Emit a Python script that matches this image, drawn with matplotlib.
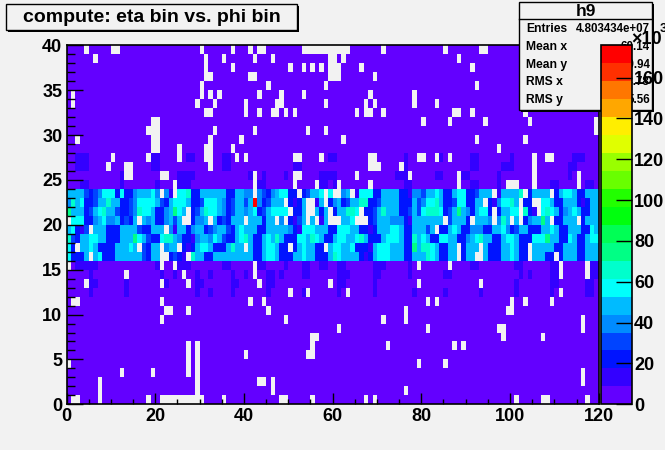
import colorsys
import numpy as np
import matplotlib
matplotlib.use("Agg")
import matplotlib.pyplot as plt
from matplotlib.colors import ListedColormap, Normalize
from matplotlib.patches import Rectangle
from matplotlib.lines import Line2D
from matplotlib.ticker import MultipleLocator

# ---------------- data (cell contents, x10^3 entries) ----------------
N_PHI = 120
N_ETA = 40
Z_MAX = 175.8  # top of colour scale (x10^3)

# code letter -> approximate content (x10^3); '.' = empty bin
CODE_VALUE = {'0': 4.0, '1': 13.0, '2': 22.0, '3': 31.0, '4': 40.0, '5': 48.0,
              '6': 51.0, '7': 57.0, '8': 66.0, '9': 75.0, 'R': 175.8}

# densely filled eta rows 16..23 (one code per phi bin)
BAND_ROWS = {
    23: "5556323477" "7272245557" "4.41.77822" "5555662255" "44.4324577" "22.23557.7"
        "..45.17772" "2555522144" "3557522577" "223555.155" "558.25555." "2577522555",
    22: "4857223568" "5522347777" "5325777522" "3777642355" "35R423556." "2125..15.2"
        "4523568822" "3555522253" "4778522377" "2255.21477" "85.22..775" "2255521255",
    21: "9555235785" "5322348775" "2245975.23" "5877542355" "4572357777" ".225..525."
        "255887.223" "5855522353" "7888723595" "425772.255" "77.821.787" "5245752255",
    20: ".777224574" "452325.545" "224535..24" "45.5232555" ".555255.4." "2135.5.15."
        "..557...23" "5554442155" "55555.3555" "2.5554.485" ".5.245595." "22555.2555",
    19: "57213.5552" "2256553225" "55.4155245" "5234553267" "5552255555" "4217775552"
        "2777552212" "5557752255" "535.225752" "2444225574" "2355222557" "5225552275",
    18: "8325577552" "2256597532" "2788542214" "5547532257" "8522575852" "2277587522"
        "5775578522" "2577752285" "7522775522" "4578552257" "7522277795" "5227522577",
    17: "72.5575222" "256575.325" "5.455.2125" "7752225855" ".522577522" ".2575522.5"
        "7755722215" "7775552295" "88752255.2" "555.522255" "7522.55555" "2255522555",
    16: "72225.5722" "2555555325" "5..2321.85" "5225555555" "5522577522" "2557552225"
        "8755552125" "7775552255" "58752255.2" "55..522255" "7522.55522" ".255522555",
}

# sparse rows: empty phi bins
EMPTY_BINS = {
    39: [4, 10, 11, 30, 37, 41, 43, 44, 53, 54, 55, 56, 57, 58, 59, 60, 61, 62, 63, 71, 85, 93, 94],
    38: [6, 31, 35, 42, 46, 59, 60, 62, 88],
    37: [31, 37, 50, 53, 55, 57, 59, 60, 61, 66, 91],
    36: [31, 32, 41, 42, 59, 60, 61, 69],
    35: [30, 45, 58, 92],
    34: [1, 30, 32, 34, 43, 48, 53, 68, 78],
    33: [1, 29, 33, 40, 47, 48, 58, 67, 69, 78, 83],
    32: [31, 32, 40, 43, 46, 47, 49, 51, 65, 67, 68, 71, 87, 88, 91, 103],
    31: [19, 20, 80, 86, 94, 104, 119],
    30: [18, 19, 20, 33, 42, 54, 58, 119],
    29: [2, 19, 20, 32, 39, 62, 92, 103],
    28: [19, 20, 25, 31, 32, 37, 97],
    27: [10, 18, 25, 31, 32, 38, 40, 51, 52, 57, 68, 69, 79, 80, 83, 86, 105, 108, 109],
    26: [9, 13, 14, 32, 68, 69, 70, 75, 105],
    25: [13, 14, 21, 22, 42, 51, 52, 65, 77, 88, 105, 115],
    24: [24, 42, 51, 56, 61, 68, 88, 99, 100, 101, 105, 115],
    15: [0, 21, 24, 42, 79, 86, 111, 117],
    14: [13, 26, 42, 111, 117],
    13: [4, 21, 27, 43, 59, 79, 93],
    12: [50, 54, 63, 111],
    11: [1, 2, 21, 41, 44, 81, 83, 100, 103, 109],
    10: [22, 23, 27, 45, 76, 99, 100],
    9: [21, 49, 71, 76, 116],
    8: [61, 81, 97, 98, 116],
    7: [55, 56, 98, 107],
    6: [27, 29, 55, 72, 87, 89],
    5: [27, 29, 40, 54, 55],
    4: [0, 27, 29, 79, 85],
    3: [12, 19, 27, 29, 116],
    2: [7, 29, 43, 44, 46, 116],
    1: [7, 29, 46, 76],
    0: [1, 2, 7, 18, 21, 22, 23, 24, 25, 26, 27, 28, 29, 30, 35, 48, 49, 55, 67, 69, 101, 107, 108, 117],
}

# sparse rows: slightly higher (second colour level) phi bins
LEVEL1_BINS = {
    27: [2, 3, 4, 19, 20, 27, 28, 35, 36, 59, 60, 76, 84, 91, 92, 100, 114, 115, 116],
    26: [2, 3, 4, 19, 20, 35, 36, 51, 52, 76, 91, 92, 98, 99, 100, 113, 114],
    25: [12, 25, 26, 27, 28, 41, 44, 49, 57, 58, 59, 60, 74, 75, 76, 83, 84, 89, 90, 97, 113],
    24: [3, 4, 12, 20, 25, 26, 27, 43, 44, 57, 58, 60, 76, 77, 91, 92, 97, 109, 110, 117, 118],
    15: [2, 3, 4, 5, 6, 20, 25, 26, 27, 35, 36, 43, 44, 49, 53, 54, 57, 58, 61, 62, 69, 70, 71,
         77, 91, 92, 101, 102, 109, 110, 118, 119],
    14: [5, 21, 24, 29, 32, 37, 40, 45, 46, 48, 53, 54, 61, 62, 63, 69, 70, 77, 85, 86, 102,
         104, 109, 110, 118, 119],
    13: [5, 6, 13, 22, 29, 30, 37, 38, 45, 46, 61, 62, 69, 101, 109, 110, 117, 118],
    12: [5, 13, 29, 32, 37, 45, 53, 61, 69, 78, 85, 93, 101, 109, 117, 118],
}

PHI_TICKS = [0, 20, 40, 60, 80, 100, 120]
ETA_TICKS = [0, 5, 10, 15, 20, 25, 30, 35, 40]
Z_TICKS = [0, 20, 40, 60, 80, 100, 120, 140, 160]
TITLE = "compute: eta bin vs. phi bin"
STATS = [("Entries", "4.803434e+07"), ("Mean x", "60.14"), ("Mean y", "19.94"),
         ("RMS x", "34.78"), ("RMS y", "5.56")]

# ---------------- build grid ----------------
grid = np.zeros((N_ETA, N_PHI))
mask = np.zeros((N_ETA, N_PHI), dtype=bool)
for r in range(N_ETA):
    if r in BAND_ROWS:
        s = BAND_ROWS[r]
        assert len(s) == N_PHI, (r, len(s))
    else:
        codes = ['0'] * N_PHI
        for c in LEVEL1_BINS.get(r, []):
            codes[c] = '1'
        for c in EMPTY_BINS.get(r, []):
            codes[c] = '.'
        s = "".join(codes)
    for c, ch in enumerate(s):
        if ch == '.':
            mask[r, c] = True
        else:
            grid[r, c] = CODE_VALUE[ch]
data = np.ma.array(grid, mask=mask)

# ROOT "pretty" palette, 20 contour levels
cols = []
for i in range(20):
    k = int((i + 0.99) * 50 / 20)
    hue = 280 - (k + 1) * 5.6
    cols.append(colorsys.hls_to_rgb(hue / 360.0, 0.5, 1.0))
cmap = ListedColormap(cols)
norm = Normalize(vmin=0, vmax=Z_MAX)

BG = '#f2f2f2'
FONT = ['Liberation Sans', 'DejaVu Sans']
plt.rcParams['font.family'] = FONT
plt.rcParams['font.weight'] = 'bold'
TICK_FS = 13

W, H = 665, 450
def fx(x): return x / W
def fy(y): return 1 - y / H

fig = plt.figure(figsize=(W / 100, H / 100), dpi=100, facecolor=BG)
ax = fig.add_axes([fx(66.5), fy(404.3), fx(598.7) - fx(66.5), fy(45.3) - fy(404.3)])
ax.set_facecolor(BG)
xe = np.arange(N_PHI + 1)
ye = np.arange(N_ETA + 1)
mesh = ax.pcolormesh(xe, ye, data, cmap=cmap, norm=norm, shading='flat')
ax.set_xlim(0, N_PHI)
ax.set_ylim(0, N_ETA)
ax.set_xticks(PHI_TICKS)
ax.set_yticks(ETA_TICKS)
ax.xaxis.set_minor_locator(MultipleLocator(5))
ax.yaxis.set_minor_locator(MultipleLocator(1))
ax.tick_params(axis='x', which='major', direction='in', length=7.8, width=1, labelsize=TICK_FS, pad=3)
ax.tick_params(axis='x', which='minor', direction='in', length=3.9, width=1)
ax.tick_params(axis='y', which='major', direction='in', length=11.5, width=1, labelsize=TICK_FS, pad=3)
ax.tick_params(axis='y', which='minor', direction='in', length=5.8, width=1)
for lab in ax.get_xticklabels() + ax.get_yticklabels():
    lab.set_fontweight('bold')
for sp in ax.spines.values():
    sp.set_linewidth(1.2)
    sp.set_zorder(5)

# ---------------- stats box (drawn below the palette) ----------------
sx0, sx1, sy0, sy1 = 519, 652, 2, 110
fig.patches.append(Rectangle((fx(sx0) + 2 / W, fy(sy1) - 2 / H), fx(sx1) - fx(sx0), fy(sy0) - fy(sy1),
                             transform=fig.transFigure, facecolor='black', edgecolor='none', zorder=1))
fig.patches.append(Rectangle((fx(sx0), fy(sy1)), fx(sx1) - fx(sx0), fy(sy0) - fy(sy1),
                             transform=fig.transFigure, facecolor=BG, edgecolor='black', lw=1, zorder=1.5))
fig.lines.append(Line2D([fx(sx0), fx(sx1)], [fy(19), fy(19)], transform=fig.transFigure,
                        color='black', lw=1, zorder=1.6))
fig.text(fx((sx0 + sx1) / 2), fy(11), "h9", ha='center', va='center', fontsize=12.5,
         fontweight='bold', zorder=2)
for i, (lab, val) in enumerate(STATS):
    yy = fy(29 + i * 17.8)
    fig.text(fx(526), yy, lab, ha='left', va='center', fontsize=8.7, fontweight='bold', zorder=2)
    fig.text(fx(650), yy, val, ha='right', va='center', fontsize=8.3, fontweight='bold', zorder=2)

# ---------------- palette ----------------
cax = fig.add_axes([fx(601), fy(404.3), fx(632) - fx(601), fy(45.3) - fy(404.3)])
cax.set_zorder(10)
cb = fig.colorbar(mesh, cax=cax)
cb.set_ticks(Z_TICKS)
cb.outline.set_linewidth(1.2)
cax.tick_params(axis='y', which='both', direction='in', length=11.5, width=1, labelsize=TICK_FS, pad=1.5,
                right=True, left=False)
cax.minorticks_off()
for lab in cax.get_yticklabels():
    lab.set_fontweight('bold')
fig.text(fx(631), fy(44), "\u00d710", ha='left', va='baseline', fontsize=TICK_FS, fontweight='bold', zorder=12)
fig.text(fx(660), fy(32), "3", ha='left', va='baseline', fontsize=9.5, fontweight='bold', zorder=12)

# ---------------- title box ----------------
tx0, tx1, ty0, ty1 = 6, 297, 4, 30
fig.patches.append(Rectangle((fx(tx0) + 2 / W, fy(ty1) - 2 / H), fx(tx1) - fx(tx0), fy(ty0) - fy(ty1),
                             transform=fig.transFigure, facecolor='black', edgecolor='none', zorder=1))
fig.patches.append(Rectangle((fx(tx0), fy(ty1)), fx(tx1) - fx(tx0), fy(ty0) - fy(ty1),
                             transform=fig.transFigure, facecolor=BG, edgecolor='black', lw=1, zorder=1.5))
fig.text(fx((tx0 + tx1) / 2), fy(17.5), TITLE, ha='center', va='center', fontsize=14,
         fontweight='bold', zorder=2)

fig.savefig("out.png", dpi=100, facecolor=BG)
